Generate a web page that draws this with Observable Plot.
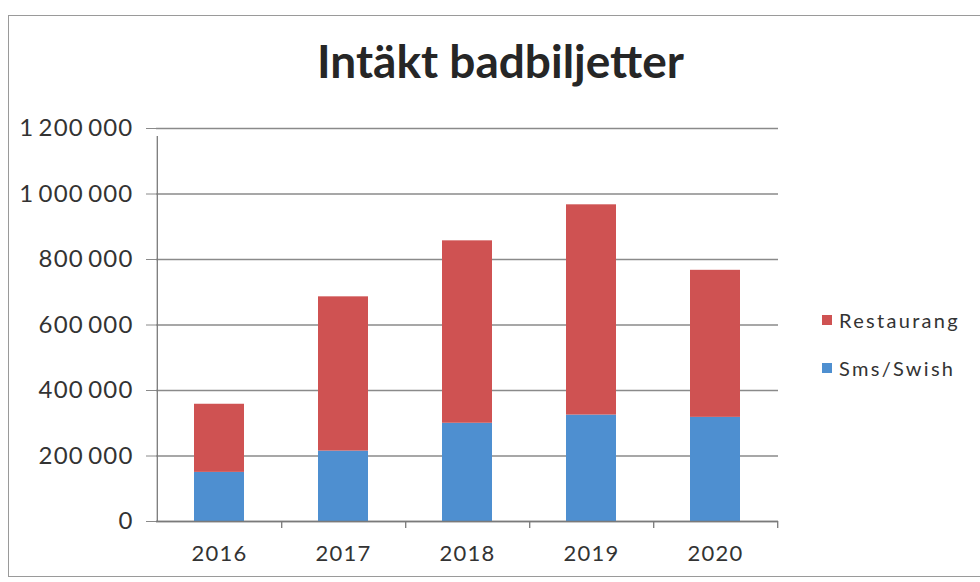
<!DOCTYPE html>
<html><head><meta charset="utf-8">
<script src="https://cdn.jsdelivr.net/npm/d3@7"></script>
<script src="https://cdn.jsdelivr.net/npm/@observablehq/plot@0.6"></script>
<style>
body{margin:0;background:#fff;}
#wrap{position:relative;width:980px;height:582px;overflow:hidden;font-family:Lato,sans-serif;}
#frame{position:absolute;left:8px;top:15px;width:980px;height:562px;border:1.5px solid #9a9a9a;box-sizing:border-box;}
#title{position:absolute;left:0;width:1001px;top:38px;text-align:center;font-weight:700;font-size:46px;color:#262626;line-height:1;}
#chart{position:absolute;left:0;top:0;}
.leg{position:absolute;left:822px;font-size:20px;color:#333;letter-spacing:2.3px;line-height:1;display:flex;align-items:center;}
.sw{width:10px;height:10px;margin-right:7px;}
</style></head>
<body>
<div id="wrap">
  <div id="frame"></div>
  <div id="chart"></div>
  <div id="title">Intäkt badbiljetter</div>
  <div id="legend"></div>
</div>
<script>
const years = ["2016", "2017", "2018", "2019", "2020"];
const series = ["Sms/Swish", "Restaurang"];
const colors = ["#4e8fd0", "#cf5252"];
const smsSwish = [150000, 215000, 300000, 325000, 318000];
const restaurang = [208000, 471000, 557000, 642000, 449000];
const yTicks = [0, 200000, 400000, 600000, 800000, 1000000, 1200000];
const title = "Intäkt badbiljetter";

const rows = [];
years.forEach((y, i) => rows.push({year: y, series: series[0], value: smsSwish[i]}));
years.forEach((y, i) => rows.push({year: y, series: series[1], value: restaurang[i]}));

const W = 980, H = 582, mL = 156, mR = 202, mT = 128, mB = 61;
const step = (W - mL - mR) / years.length;
const fmt = v => d3.format(",")(v).replace(/,/g, "\u2009");

const plot = Plot.plot({
  width: W, height: H,
  marginLeft: mL, marginRight: mR, marginTop: mT, marginBottom: mB,
  style: {fontFamily: "Lato, sans-serif", fontSize: "22px", color: "#333", background: "transparent"},
  x: {domain: years, paddingInner: 0.6, paddingOuter: 0.3, label: null, tickSize: 0, tickPadding: 24},
  y: {domain: [0, 1200000], ticks: yTicks, tickFormat: fmt, label: null, tickSize: 10, tickPadding: 13},
  color: {domain: series, range: colors},
  marks: [
    Plot.gridY(yTicks, {stroke: "#8a8a8a", strokeOpacity: 1, strokeWidth: 1.3}),
    Plot.barY(rows, Plot.stackY({x: "year", y: "value", fill: "series"})),
    Plot.ruleY([0], {stroke: "#7a7a7a", strokeWidth: 1.5}),
    Plot.ruleX([years[0]], {x: d => d, dx: -step / 2, y1: 0, y2: 1200000, insetBottom: -8, stroke: "#7a7a7a", strokeWidth: 1.3}),
    Plot.ruleX(years, {x: d => d, dx: step / 2, y1: 0, y2: 0, insetBottom: -7, stroke: "#7a7a7a", strokeWidth: 1.3})
  ]
});
plot.querySelectorAll('[aria-label="y-axis tick"] path, [aria-label="y-axis tick"]').forEach(e => e.setAttribute("stroke", "#8a8a8a"));
plot.querySelectorAll('[aria-label="y-axis tick label"]').forEach(e => { e.setAttribute("letter-spacing", "1.2px"); e.setAttribute("font-size", "24px"); });
plot.querySelectorAll('[aria-label="x-axis tick label"]').forEach(e => e.setAttribute("letter-spacing", "1.2px"));
document.getElementById("chart").appendChild(plot);

const leg = document.getElementById("legend");
const legendOrder = [{name: series[1], color: colors[1], top: 310}, {name: series[0], color: colors[0], top: 358}];
legendOrder.forEach(s => {
  const d = document.createElement("div");
  d.className = "leg";
  d.style.top = s.top + "px";
  d.innerHTML = `<span class="sw" style="background:${s.color}"></span><span>${s.name}</span>`;
  leg.appendChild(d);
});
</script>
</body></html>
